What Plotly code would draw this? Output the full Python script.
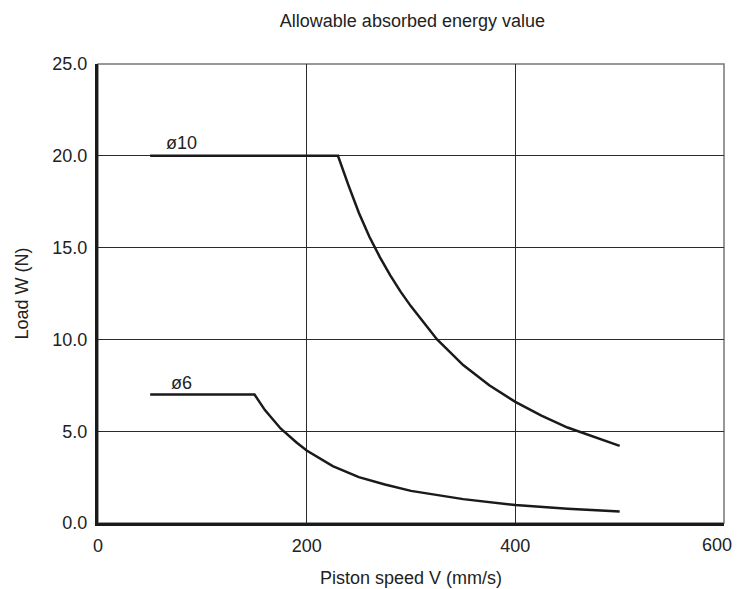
import plotly.graph_objects as go

# ─── Data ─────────────────────────────────────────────────────────────────
speed_d10 = [50, 100, 150, 200, 230, 240, 250, 260, 270, 280, 290, 300, 325,
             350, 375, 400, 425, 450, 475, 500]
load_d10 = [20.0, 20.0, 20.0, 20.0, 20.0, 18.4, 16.9, 15.6, 14.5, 13.5, 12.6,
            11.8, 10.0, 8.6, 7.5, 6.6, 5.85, 5.2, 4.7, 4.2]

speed_d6 = [50, 100, 150, 160, 175, 190, 200, 225, 250, 275, 300, 350, 400,
            450, 500]
load_d6 = [7.0, 7.0, 7.0, 6.15, 5.15, 4.4, 3.95, 3.1, 2.5, 2.1, 1.75, 1.3,
           0.98, 0.78, 0.63]

x_ticks = [0, 200, 400, 600]
x_tick_labels = ["0", "200", "400", "600"]
y_ticks = [0, 5, 10, 15, 20, 25]

FONT = "Liberation Sans, Arial, sans-serif"
GRID = "#2a2a2a"
LINE = "#1a1a1a"

# page body has an 8px margin, so the figure is sized to sit inside it
PAGE_PAD = 8

fig = go.Figure()

for xs, ys in [(speed_d10, load_d10), (speed_d6, load_d6)]:
    fig.add_trace(go.Scatter(
        x=xs, y=ys, mode="lines",
        line=dict(color=LINE, width=2.5),
        showlegend=False,
    ))

# curve labels
fig.add_annotation(x=80, y=20.7, text="ø10", showarrow=False,
                   font=dict(size=18, color="#222"))
fig.add_annotation(x=80, y=7.65, text="ø6", showarrow=False,
                   font=dict(size=18, color="#222"))

# last x tick label is drawn right-aligned so the window edge doesn't clip it
fig.add_annotation(x=x_ticks[-1], y=0, xref="x", yref="y",
                   text=x_tick_labels[-1], showarrow=False,
                   xanchor="right", yanchor="middle", xshift=10, yshift=-22,
                   font=dict(size=18, color="#222"))

# thin grey frame (top / right)
fig.add_shape(type="rect", xref="paper", yref="paper", x0=0, y0=0, x1=1, y1=1,
              line=dict(color="#777", width=1.5), layer="below")

fig.update_layout(
    width=742 - PAGE_PAD, height=589 - PAGE_PAD,
    paper_bgcolor="white", plot_bgcolor="white",
    font=dict(family=FONT, color="#222", size=18),
    margin=dict(l=98 - PAGE_PAD, r=18, t=64 - PAGE_PAD, b=66),
    title=dict(text="Allowable absorbed energy value", x=0.551, xanchor="center",
               y=0.979, yanchor="middle", font=dict(size=18)),
    xaxis=dict(
        range=[0, 600], tickvals=x_ticks,
        ticktext=x_tick_labels[:-1] + [""],
        showgrid=True, gridcolor=GRID,
        gridwidth=1, zeroline=False, showline=True, linecolor=LINE,
        linewidth=3, ticks="", ticklabelstandoff=4, automargin=False,
        tickfont=dict(size=18),
        title=dict(text="Piston speed V (mm/s)", standoff=17, font=dict(size=18)),
    ),
    yaxis=dict(
        range=[0, 25], tickvals=y_ticks, tickformat=".1f", showgrid=True,
        gridcolor=GRID, gridwidth=1, zeroline=False, showline=True,
        linecolor=LINE, linewidth=3, ticks="", ticklabelstandoff=4,
        automargin=False, tickfont=dict(size=18),
        title=dict(text="Load W (N)", standoff=20, font=dict(size=18)),
    ),
)

fig.write_html("out.html")
